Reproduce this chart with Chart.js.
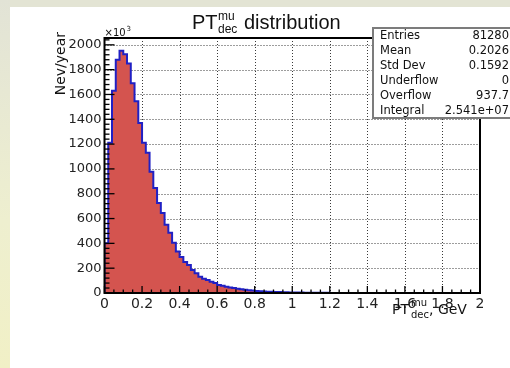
<!DOCTYPE html>
<html>
<head>
<meta charset="utf-8">
<title>PT mu dec distribution</title>
<script src="https://cdn.jsdelivr.net/npm/chart.js@4.4.1/dist/chart.umd.min.js"></script>
<style>
  body { margin: 0; background: #fff; }
  #page { position: relative; width: 510px; height: 368px; background: #fff; overflow: hidden; }
  #topband { position: absolute; left: 0; top: 0; width: 510px; height: 7px; background: #e3e4d4; }
  #leftband { position: absolute; left: 0; top: 0; width: 10px; height: 368px; background: linear-gradient(#e2e3d6, #eeefcf 60%, #f1f0c6); }
  #js-chart { position: absolute; left: 0; top: 0; }
</style>
</head>
<body>
<div id="page">
  <div id="topband"></div>
  <div id="leftband"></div>
  <canvas id="js-chart" width="510" height="368"></canvas>
</div>
<script>
// histogram, 100 bins from 0 to 2 GeV, contents in units of 10^3
const X_MIN = 0;
const X_MAX = 2;
const BIN_WIDTH = 0.02;
const Y_MAX = 2055;

const binCounts = [
  400, 1210, 1630, 1880, 1952, 1925, 1850, 1690, 1545, 1370,
  1210, 1130, 978, 847, 726, 645, 550, 485, 405, 335,
  290, 250, 225, 185, 160, 130, 115, 105, 90, 80,
  65, 58, 50, 45, 40, 35, 30, 26, 22, 20,
  17, 15, 13, 11, 10, 8.5, 7.5, 6.5, 5.5, 5,
  4.2, 3.6, 3.1, 2.7, 2.3, 2.0, 1.7, 1.5, 1.3, 1.1,
  1.0, 0.9, 0.8, 0.7, 0.6, 0.55, 0.5, 0.45, 0.4, 0.35,
  0.3, 0.28, 0.25, 0.22, 0.2, 0.18, 0.16, 0.14, 0.12, 0.11,
  0.1, 0.09, 0.08, 0.07, 0.06, 0.06, 0.05, 0.05, 0.04, 0.04,
  0.03, 0.03, 0.03, 0.02, 0.02, 0.02, 0.02, 0.01, 0.01, 0.01,
];

const xMajorTicks = [0, 0.2, 0.4, 0.6, 0.8, 1, 1.2, 1.4, 1.6, 1.8, 2];
const yMajorTicks = [0, 200, 400, 600, 800, 1000, 1200, 1400, 1600, 1800, 2000];

const statLabels = ["Entries", "Mean", "Std Dev", "Underflow", "Overflow", "Integral"];
const statValues = ["81280", "0.2026", "0.1592", "0", "937.7", "2.541e+07"];

function buildPoints(counts) {
  const pts = [{ x: X_MIN, y: 0 }];
  counts.forEach((v, i) => pts.push({ x: +(X_MIN + i * BIN_WIDTH).toFixed(2), y: v }));
  pts.push({ x: X_MAX, y: counts[counts.length - 1] });
  return pts;
}

// text with sup/sub like ROOT's PT^{mu}_{dec}
function drawSupSub(ctx, x, sup, sub, supY, subY, font) {
  ctx.font = font;
  ctx.fillText(sup, x, supY);
  ctx.fillText(sub, x, subY);
  return Math.max(ctx.measureText(sup).width, ctx.measureText(sub).width);
}

const rootStyle = {
  id: "rootStyle",
  beforeDatasetsDraw(chart) {
    const { ctx, chartArea: a, scales } = chart;
    ctx.save();
    ctx.strokeStyle = "#3a3a3a";
    ctx.lineWidth = 1;
    ctx.setLineDash([1, 2]);
    xMajorTicks.slice(1, -1).forEach((v) => {
      const px = Math.round(scales.x.getPixelForValue(v)) + 0.5;
      ctx.beginPath();
      ctx.moveTo(px, a.top);
      ctx.lineTo(px, a.bottom);
      ctx.stroke();
    });
    yMajorTicks.slice(1).forEach((v) => {
      const py = Math.round(scales.y.getPixelForValue(v)) + 0.5;
      ctx.beginPath();
      ctx.moveTo(a.left, py);
      ctx.lineTo(a.right, py);
      ctx.stroke();
    });
    ctx.restore();
  },
  afterDatasetsDraw(chart) {
    const { ctx, chartArea: a, scales } = chart;
    ctx.save();
    ctx.strokeStyle = "#000";
    ctx.lineWidth = 1.3;
    // y ticks: major every 200, minor every 40
    for (let v = 0; v <= Y_MAX; v += 40) {
      const py = scales.y.getPixelForValue(v);
      const len = v % 200 === 0 ? 10 : 5;
      ctx.beginPath();
      ctx.moveTo(a.left, py);
      ctx.lineTo(a.left + len, py);
      ctx.stroke();
    }
    // x ticks: major every 0.2, minor every 0.05
    for (let i = 0; i <= 40; i++) {
      const v = i * 0.05;
      const px = scales.x.getPixelForValue(v);
      const len = i % 4 === 0 ? 7 : 3.5;
      ctx.beginPath();
      ctx.moveTo(px, a.bottom);
      ctx.lineTo(px, a.bottom - len);
      ctx.stroke();
    }
    ctx.lineWidth = 2;
    ctx.strokeRect(a.left, a.top, a.right - a.left, a.bottom - a.top);
    ctx.restore();
  },
  afterDraw(chart) {
    const { ctx, chartArea: a } = chart;
    ctx.save();
    ctx.fillStyle = "#111";
    ctx.textAlign = "left";
    ctx.textBaseline = "alphabetic";

    // title
    ctx.font = "20px 'Liberation Sans'";
    ctx.fillText("PT", 192, 29);
    let w = drawSupSub(ctx, 218, "mu", "dec", 20, 33, "12px 'Liberation Sans'");
    ctx.font = "20px 'Liberation Sans'";
    ctx.fillText(" distribution", 218 + w + 1, 29);

    // x axis title
    ctx.font = "14px 'DejaVu Sans'";
    ctx.fillText("PT", 392, 314);
    w = drawSupSub(ctx, 411, "mu", "dec", 306, 318, "10px 'DejaVu Sans'");
    ctx.font = "14px 'DejaVu Sans'";
    ctx.fillText(", GeV", 411 + w, 314);

    // y axis title
    ctx.save();
    ctx.translate(65, 32);
    ctx.rotate(-Math.PI / 2);
    ctx.textAlign = "right";
    ctx.font = "14px 'DejaVu Sans'";
    ctx.fillText("Nev/year", 0, 0);
    ctx.restore();

    // exponent
    ctx.font = "10px 'DejaVu Sans'";
    ctx.fillText("\u00d710", a.left, 36);
    ctx.font = "7px 'DejaVu Sans'";
    ctx.fillText("3", a.left + 22, 31);

    // stats box
    const bx = 373, by = 28, bw = 140, bh = 90;
    ctx.fillStyle = "#fff";
    ctx.fillRect(bx, by, bw, bh);
    ctx.strokeStyle = "#7c7c7c";
    ctx.lineWidth = 2;
    ctx.strokeRect(bx, by, bw, bh);
    ctx.fillStyle = "#111";
    ctx.font = "11.5px 'DejaVu Sans'";
    statLabels.forEach((label, i) => {
      const y = 39 + i * 15;
      ctx.textAlign = "left";
      ctx.fillText(label, 380, y);
      ctx.textAlign = "right";
      ctx.fillText(statValues[i], 509, y);
    });
    ctx.restore();
  },
};

function drawChart(points) {
  const context = document.getElementById("js-chart").getContext("2d");

  const histChart = new Chart(context, {
    type: "line",
    data: {
      datasets: [
        {
          label: "PT mu dec",
          data: points,
          stepped: true,
          fill: "origin",
          backgroundColor: "#d4544f",
          borderColor: "#2020c4",
          borderWidth: 2,
          pointRadius: 0,
        },
      ],
    },
    options: {
      responsive: false,
      animation: false,
      layout: { padding: { left: 0, top: 38, right: 30, bottom: 0 } },
      plugins: {
        legend: { display: false },
        tooltip: { enabled: false },
      },
      scales: {
        x: {
          type: "linear",
          min: X_MIN,
          max: X_MAX,
          afterFit: (scale) => {
            scale.height = 75;
          },
          afterBuildTicks: (scale) => {
            scale.ticks = xMajorTicks.map((v) => ({ value: v }));
          },
          grid: { display: false, drawTicks: false },
          border: { display: false },
          ticks: {
            autoSkip: false,
            maxRotation: 0,
            padding: 3,
            color: "#222",
            font: { family: "DejaVu Sans", size: 14 },
            callback: (value) => String(+value.toFixed(1)),
          },
        },
        y: {
          min: 0,
          max: Y_MAX,
          afterFit: (scale) => {
            scale.width = 104.5;
          },
          afterBuildTicks: (scale) => {
            scale.ticks = yMajorTicks.map((v) => ({ value: v }));
          },
          grid: { display: false, drawTicks: false },
          border: { display: false },
          ticks: {
            padding: 3,
            color: "#222",
            font: { family: "DejaVu Sans", size: 13 },
            callback: (value) => String(value),
          },
        },
      },
    },
    plugins: [rootStyle],
  });
  return histChart;
}

drawChart(buildPoints(binCounts));
</script>
</body>
</html>
